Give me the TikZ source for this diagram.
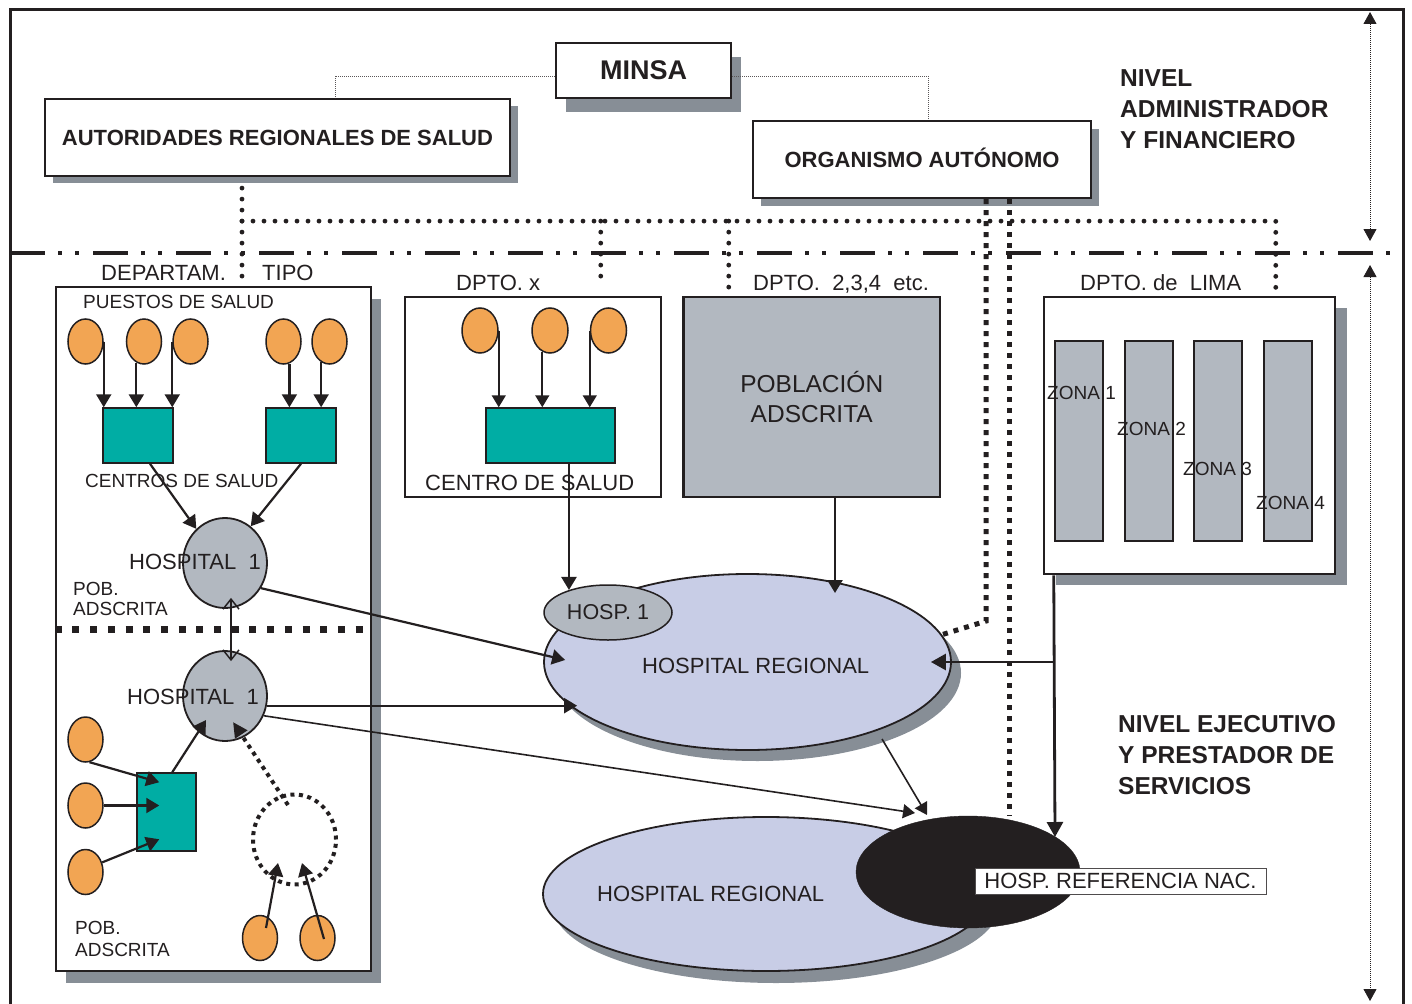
\documentclass[tikz,border=0pt]{standalone}
\usepackage{fontspec}
\setmainfont{Liberation Sans}
\usetikzlibrary{shapes.geometric,arrows.meta,calc,shadows}

\definecolor{ink}{RGB}{35,31,32}
\definecolor{orangefill}{RGB}{242,165,83}
\definecolor{tealfill}{RGB}{0,173,164}
\definecolor{shadowgray}{RGB}{135,142,150}
\definecolor{hospgray}{RGB}{178,184,192}
\definecolor{regblue}{RGB}{200,205,230}

\newcommand\txtS{\fontsize{19}{22}\selectfont}
\newcommand\txtM{\fontsize{22}{26}\selectfont}
\newcommand\txtL{\fontsize{24.5}{30}\selectfont}

\begin{document}
\begin{tikzpicture}[x=1pt,y=-1pt,
  every node/.style={text=ink,inner sep=0pt},
  shadowed/.style 2 args={drop shadow={shadow xshift=#1pt,shadow yshift=-#2pt,fill=shadowgray,opacity=1}},
  headbox/.style={draw=ink,line width=2.2pt,fill=white,font=\bfseries\txtM},
  deptbox/.style={draw=ink,line width=2.5pt,fill=white},
  zone/.style={draw=ink,line width=2pt,fill=hospgray,minimum width=48pt,minimum height=200pt},
  post/.style={ellipse,draw=ink,line width=1.5pt,fill=orangefill,minimum width=35pt,minimum height=45pt},
  centro/.style={draw=ink,line width=1.5pt,fill=tealfill},
  hosp/.style={ellipse,draw=ink,line width=1.8pt,fill=hospgray,minimum width=84pt,minimum height=90pt},
  regional/.style={ellipse,draw=ink,line width=1.8pt,fill=regblue},
  tlabel/.style={font=\txtM,anchor=base west},
  slabel/.style={font=\txtS,anchor=base west},
  levelnote/.style={font=\bfseries\fontsize{24.5}{31}\selectfont,align=left,anchor=north west},
  arr/.style={draw=ink,line width=2.2pt,-{Triangle[length=13pt,width=15pt]}},
  thinarr/.style={draw=ink,line width=1.6pt,-{Triangle[length=12pt,width=14pt]}},
  bigarr/.style={draw=ink,line width=2.8pt,-{Triangle[length=15pt,width=16pt]}},
  openarr/.style={draw=ink,line width=1.5pt,{Straight Barb[length=10pt,width=16pt]}-{Straight Barb[length=10pt,width=16pt]}},
  rdots/.style={draw=ink,line width=4.8pt,line cap=round,dash pattern=on 0pt off 11pt},
  sqdots/.style={draw=ink,line width=5pt,dash pattern=on 5pt off 6pt},
  fdots/.style={draw=ink,line width=4pt,dash pattern=on 4pt off 4.5pt},
  sepline/.style={draw=ink,line width=7pt,dash pattern=on 7pt off 10.7pt},
  tie/.style={draw=ink!75,line width=0.8pt,dash pattern=on 1pt off 1pt},
  levelsep/.style={draw=ink,line width=4pt,dash pattern=on 35pt off 13pt on 4pt off 13pt on 4pt off 14pt},
  levelspan/.style={draw=ink,line width=0.8pt,dash pattern=on 1pt off 1pt,{Triangle[length=12pt,width=13pt]}-{Triangle[length=12pt,width=13pt]}},
]
\useasboundingbox (0,0) rectangle (1412,1003);

% outer frame, level separator and level spans
\draw[ink,line width=3pt] (10,1008) -- (10,10) -- (1403,10) -- (1403,1008);
\draw[levelsep] (10,253) -- (1403,253);
\draw[levelspan] (1370,12) -- (1370,241);
\draw[levelspan] (1370,265) -- (1370,1001);

% administrative boxes
\node[headbox,shadowed={10}{14},minimum width=175pt,minimum height=55pt,font=\bfseries\fontsize{27}{32}\selectfont] (minsa) at (643.5,70.5) {MINSA};
\node[headbox,shadowed={8}{7},minimum width=465pt,minimum height=77pt] (aut) at (277.5,137.5) {AUTORIDADES REGIONALES DE SALUD};
\node[headbox,shadowed={8}{8},minimum width=338pt,minimum height=77pt,text height=15.8pt,text depth=0pt] (org) at (922,159.5) {ORGANISMO AUTÓNOMO};

% ties from MINSA
\draw[tie] ([yshift=-5.5pt]minsa.west) -| ($(aut.north)+(57.5,0)$);
\draw[tie] ([yshift=-5.5pt]minsa.east) -| ($(org.north)+(6,0)$);

% department boxes
\node[deptbox,shadowed={10}{12},minimum width=315pt,minimum height=684pt] (dep) at (213.5,629) {};
\node[deptbox,minimum width=256pt,minimum height=200pt] (dptx) at (533,397) {};
\node[deptbox,fill=hospgray,minimum width=256.5pt,minimum height=200pt,font=\txtL,align=center] (pob) at (811.75,397) {POBLACIÓN\\ADSCRITA};
\node[deptbox,shadowed={12}{11},minimum width=291pt,minimum height=277pt] (lima) at (1189.5,435.5) {};
\node[zone] (z1) at (1079,441) {};
\node[zone] (z2) at (1149,441) {};
\node[zone] (z3) at (1218,441) {};
\node[zone] (z4) at (1288,441) {};

% regional authority links (round dots)
\coordinate (rd0) at ($(aut.south)+(-35.5,11)$);
\coordinate (bus) at ($(aut.south)+(-35.5,44)$);
\coordinate (lt) at ($(lima.north west)+(233,0)$);
\coordinate (dxa) at ($(dptx.north west)+(197,-11)$);
\coordinate (dpa) at ($(pob.north west)+(46.5,-7)$);
\draw[rdots] (rd0) -- (rd0 |- dep.north);
\draw[rdots] (bus) -- (bus -| lt) -- (lt);
\draw[rdots] (bus -| dxa) -- (dxa);
\draw[rdots] (bus -| dpa) -- (dpa);

% separator inside the type department
\draw[sepline] (dep.west) -- (dep.east);

% hospitals
\node[regional,shadowed={10}{11},minimum width=407pt,minimum height=176pt] (hr1) at (747.5,662) {};
\node[regional,shadowed={10}{12},minimum width=446pt,minimum height=154pt] (hr2) at (766,894) {};
\node[ellipse,fill=ink,draw=ink,minimum width=224pt,minimum height=112pt] (blk) at (968,872) {};
\node[ellipse,draw=ink,line width=1.5pt,fill=hospgray,minimum width=128pt,minimum height=55pt,font=\fontsize{21.5}{26}\selectfont] (hsp) at (608,612.5) {HOSP. 1};
\node[hosp] (h1) at (225,563) {};
\node[hosp] (h2) at (225,696) {};
\node[ellipse,fdots,minimum width=83pt,minimum height=90pt] (dc) at (294.5,839.5) {};

% health posts
\node[post] (p1) at (85.5,341.5) {};
\node[post] (p2) at (144,341.5) {};
\node[post] (p3) at (190.5,341.5) {};
\node[post] (p4) at (283.5,341.5) {};
\node[post] (p5) at (329.5,341.5) {};
\node[post,minimum width=36pt] (p6) at (480,330.5) {};
\node[post,minimum width=36pt] (p7) at (550,330.5) {};
\node[post,minimum width=36pt] (p8) at (608.5,330.5) {};
\node[post] (p9) at (85.5,739.5) {};
\node[post] (p10) at (85.5,805.5) {};
\node[post] (p11) at (85.5,872) {};
\node[post] (p12) at (260,938) {};
\node[post] (p13) at (317.5,938) {};

% health centres
\node[centro,minimum width=70pt,minimum height=55pt] (c1) at (138,435.5) {};
\node[centro,minimum width=70pt,minimum height=55pt] (c2) at (301,435.5) {};
\node[centro,minimum width=129pt,minimum height=55pt] (c3) at (550.5,435.5) {};
\node[centro,minimum width=59pt,minimum height=78pt] (c4) at (166.5,812) {};

% labels
\node[tlabel] (tdep) at (101,280) {DEPARTAM.};
\node[tlabel] (ttipo) at (262,280) {TIPO};
\node[tlabel] (tdx) at (456,290) {DPTO. x};
\node[tlabel] (td234) at (753,290) {DPTO.~~2,3,4~~etc.};
\node[tlabel] (tdlima) at (1080,290) {DPTO. de~~LIMA};
\node[slabel] (tpuestos) at (83,308) {PUESTOS DE SALUD};
\node[slabel] (tcentros) at (85,487) {CENTROS DE SALUD};
\node[tlabel] (tcentro) at (425,490) {CENTRO DE SALUD};
\node[tlabel] (th1) at (129,569) {HOSPITAL~~1};
\node[tlabel] (th2) at (127,704) {HOSPITAL~~1};
\node[font=\fontsize{19}{20}\selectfont,align=left,anchor=north west] (tpob1) at (73,582.4) {POB.\\ADSCRITA};
\node[font=\fontsize{19}{22}\selectfont,align=left,anchor=north west] (tpob2) at (75,921.4) {POB.\\ADSCRITA};
\node[tlabel] (thr1) at (642,673) {HOSPITAL REGIONAL};
\node[tlabel] (thr2) at (597,901) {HOSPITAL REGIONAL};
\node[slabel] (tz1) at (1047,399) {ZONA 1};
\node[slabel] (tz2) at (1117,435) {ZONA 2};
\node[slabel] (tz3) at (1183,475) {ZONA 3};
\node[slabel] (tz4) at (1256,509) {ZONA 4};
\node[levelnote] (nadm) at (1120,69.5) {NIVEL\\ADMINISTRADOR\\Y FINANCIERO};
\node[levelnote] (nejec) at (1118,715.5) {NIVEL EJECUTIVO\\Y PRESTADOR DE\\SERVICIOS};

% autonomous body links (square dots)
\coordinate (oa) at ($(org.south)+(64,0)$);
\coordinate (ob) at ($(org.south)+(87,0)$);
\draw[sqdots] (oa) -- ($(oa)+(0,422)$) -- (hr1.8);

% Lima link
\coordinate (lb) at ($(lima.south west)+(11,0)$);
\coordinate (lj) at (hr1.east -| lb);
\draw[bigarr] (lb) -- ($(blk.center)+(87,-35)$);
\draw[bigarr] (lj) -- ($(hr1.east)+(-21,0)$);
\draw[sqdots] (ob) -- (ob |- blk.north);

% type department flows
\draw[arr] (p1.east) -- (c1.north -| p1.east);
\draw[arr] (p2.250) -- (c1.north -| p2.250);
\draw[arr] (p3.west) -- (c1.north -| p3.west);
\draw[arr] (p4.285) -- (c2.north -| p4.285);
\draw[arr] (p5.248) -- (c2.north -| p5.248);
\draw[arr] ([xshift=12pt]c1.south) -- (h1.130);
\draw[arr] (c2.south) -- (h1.55);
\draw[arr] (h1.-35) -- ($(hr1.west)+(22,-2)$);
\draw[openarr] ($(h1.south)+(6,-11)$) -- ($(h2.north)+(6,11)$);
\draw[arr] (h2.-13) -- ($(h2.-13 -| hr1.west)+(34,0)$);
\draw[thinarr] (h2.-27) -- ($(blk.center)+(-53,-59)$);
\draw[arr] (p9.280) -- ($(c4.north west)+(23,10)$);
\draw[arr] (p10.east) -- ($(p10.east -| c4.west)+(23,0)$);
\draw[arr] (p11.30) -- ($(c4.north west)+(23,67)$);
\draw[arr] ($(c4.north west)+(36,0)$) -- ($(h2.center)+(-19,24)$);
\draw[fdots,-{Triangle[length=15pt,width=14pt]}] ($(dc.center)+(-6.5,-34.5)$) -- ($(h2.center)+(8,26)$);
\draw[arr] ($(p12.center)+(6,-10)$) -- ($(dc.center)+(-16.5,23.5)$);
\draw[arr] ($(p13.center)+(6.5,1)$) -- ($(dc.center)+(7.5,23.5)$);

% department x and other departments
\draw[thinarr] (p6.east) -- (c3.north -| p6.east);
\draw[thinarr] (p7.250) -- (c3.north -| p7.250);
\draw[thinarr] (p8.west) -- (c3.north -| p8.west);
\draw[arr,line width=2.5pt] (c3.south -| hsp.150) -- (hsp.150);
\draw[arr,line width=2.5pt] ($(pob.south)+(23.25,0)$) -- ($(hr1.center)+(87.5,-69)$);
\draw[thinarr] ($(hr1.center)+(134.5,77)$) -- ($(blk.center)+(-41,-57)$);

% national referral hospital label
\node[draw=ink!80,line width=0.8pt,fill=white,font=\txtM,minimum width=291pt,minimum height=26pt,text height=15.75pt,text depth=0pt] (tref) at (1120.5,881) {HOSP. REFERENCIA NAC.};
\end{tikzpicture}
\end{document}
